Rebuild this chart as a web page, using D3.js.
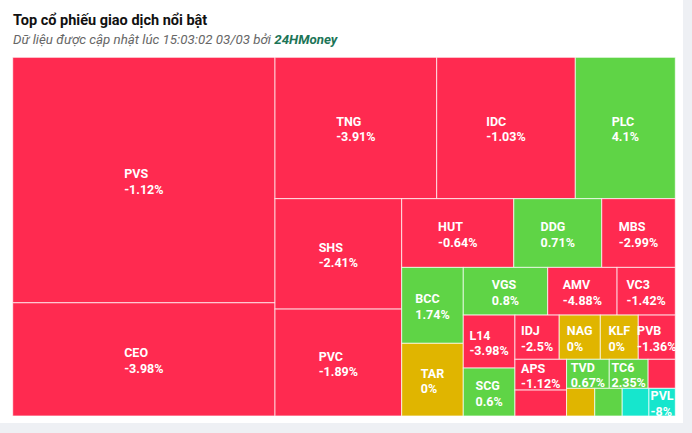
<!DOCTYPE html>
<html>
<head>
<meta charset="utf-8">
<script src="https://cdn.jsdelivr.net/npm/d3@7"></script>
<style>
  html, body { margin: 0; padding: 0; background: #eef0f4; }
  svg { display: block; }
</style>
</head>
<body>
<svg id="chart" width="692" height="433"></svg>
<script>
// ---- Data ----
const tickers = ["PVS","CEO","TNG","IDC","PLC","SHS","PVC","HUT","DDG","MBS",
                 "BCC","TAR","VGS","AMV","VC3","L14","SCG","IDJ","NAG","KLF",
                 "PVB","APS","","TVD","TC6","","","","","PVL"];
const tradeValues = [644.5, 297.2, 228.8, 196.1, 141.5, 140.0, 135.6, 77.1, 60.5, 50.6,
                     46.8, 44.8, 40.3, 33.1, 27.8, 27.4, 24.8, 19.6, 18.2, 16.8,
                     16.4, 15.9, 13.4, 12.4, 11.3, 7.9, 7.8, 7.6, 7.4, 7.3];
const changes = [-1.12, -3.98, -3.91, -1.03, 4.1, -2.41, -1.89, -0.64, 0.71, -2.99,
                 1.74, 0, 0.8, -4.88, -1.42, -3.98, 0.6, -2.5, 0, 0,
                 -1.36, -1.12, null, 0.67, 2.35, null, null, null, null, -8];
// price state (colour key): down / up / ref / floor
const states = ["down","down","down","down","up","down","down","down","up","down",
                "up","ref","up","down","down","down","up","down","ref","ref",
                "down","down","down","up","up","down","ref","up","floor","floor"];
const titleText = "Top cổ phiếu giao dịch nổi bật";
const subtitlePrefix = "Dữ liệu được cập nhật lúc 15:03:02 03/03 bởi ";
const subtitleBrand = "24HMoney";

const stateColor = d3.scaleOrdinal()
  .domain(["down","up","ref","floor"])
  .range(["#ff2a50","#5fd446","#e0b500","#16e6cd"]);

// ---- Layout ----
const svg = d3.select("#chart");
svg.append("rect").attr("x", 0).attr("y", 0).attr("width", 683).attr("height", 423).attr("fill", "#fff");

svg.append("text").attr("x", 13).attr("y", 25)
  .attr("font-family", "Roboto, Arial, sans-serif").attr("font-weight", 700).attr("font-size", 14.5)
  .attr("fill", "#111").text(titleText);
const sub = svg.append("text").attr("x", 13).attr("y", 44)
  .attr("font-family", "Roboto, Arial, sans-serif").attr("font-style", "italic").attr("font-size", 13.3)
  .attr("fill", "#666");
sub.append("tspan").text(subtitlePrefix);
sub.append("tspan").attr("font-weight", 700).attr("fill", "#1c7557").text(subtitleBrand);

const plot = {x: 12.7, y: 57.3, w: 662.6, h: 358.7};

const rows = tickers.map((t, i) => ({name: t, value: tradeValues[i], change: changes[i], state: states[i]}));

// Alternating-direction squarified tiling
function tileAlternating(parent, x0, y0, x1, y1) {
  const kids = parent.children;
  let rx = x0, ry = y0, rw = x1 - x0, rh = y1 - y0;
  const scale = (rw * rh) / parent.value;
  let dir = 0;
  let group = [];
  const ar = (a, b) => Math.max(a / b, b / a);
  function place(items) {
    const sum = d3.sum(items, d => d.value * scale);
    if (dir === 0) {
      const gw = sum / rh; let y = ry;
      items.forEach(d => { const h = d.value * scale / gw; d.x0 = rx; d.x1 = rx + gw; d.y0 = y; d.y1 = y + h; y += h; });
      rx += gw; rw -= gw;
    } else {
      const gh = sum / rw; let x = rx;
      items.forEach(d => { const w = d.value * scale / gh; d.y0 = ry; d.y1 = ry + gh; d.x0 = x; d.x1 = x + w; x += w; });
      ry += gh; rh -= gh;
    }
    dir = 1 - dir;
  }
  kids.forEach((child, i) => {
    group.push(child);
    if (group.length >= 2) {
      const prev = group[group.length - 2].value * scale;
      const sumOld = d3.sum(group.slice(0, -1), d => d.value * scale);
      const sumNew = sumOld + child.value * scale;
      let lR, nR;
      if (dir === 0) {
        const lW = sumOld / rh, nW = sumNew / rh;
        lR = ar(lW, prev / lW); nR = ar(nW, prev / nW);
      } else {
        const lH = sumOld / rw, nH = sumNew / rw;
        lR = ar(prev / lH, lH); nR = ar(prev / nH, nH);
      }
      if (nR > lR) { place(group.slice(0, -1)); group = [child]; }
    }
    if (i === kids.length - 1) place(group);
  });
}

const root = d3.hierarchy({children: rows}).sum(d => d.value || 0);
d3.treemap().size([plot.w, plot.h]).tile(tileAlternating)(root);

const g = svg.append("g").attr("transform", `translate(${plot.x},${plot.y})`);
const cells = g.selectAll("g.cell").data(root.leaves()).join("g").attr("class", "cell");

cells.append("rect")
  .attr("x", d => d.x0).attr("y", d => d.y0)
  .attr("width", d => d.x1 - d.x0).attr("height", d => d.y1 - d.y0)
  .attr("fill", d => stateColor(d.data.state))
  .attr("stroke", "rgba(255,255,255,0.7)").attr("stroke-width", 1);

const labeled = cells.filter(d => d.data.name !== "");
const lbl = labeled.append("text")
  .attr("font-family", "Roboto, Arial, sans-serif").attr("font-weight", 700).attr("font-size", 12.5)
  .attr("fill", "#fff");
lbl.append("tspan").attr("class", "l1").text(d => d.data.name);
lbl.append("tspan").attr("class", "l2").text(d => d.data.change + "%");
lbl.each(function(d) {
  const t = d3.select(this);
  const w1 = t.select(".l1").node().getComputedTextLength();
  const w2 = t.select(".l2").node().getComputedTextLength();
  const w = Math.max(w1, w2);
  const cx = (d.x0 + d.x1) / 2, cy = (d.y0 + d.y1) / 2;
  const x = cx - w / 2;
  t.select(".l1").attr("x", x).attr("y", cy - 2);
  t.select(".l2").attr("x", x).attr("y", cy + 13.5);
});
</script>
</body>
</html>
